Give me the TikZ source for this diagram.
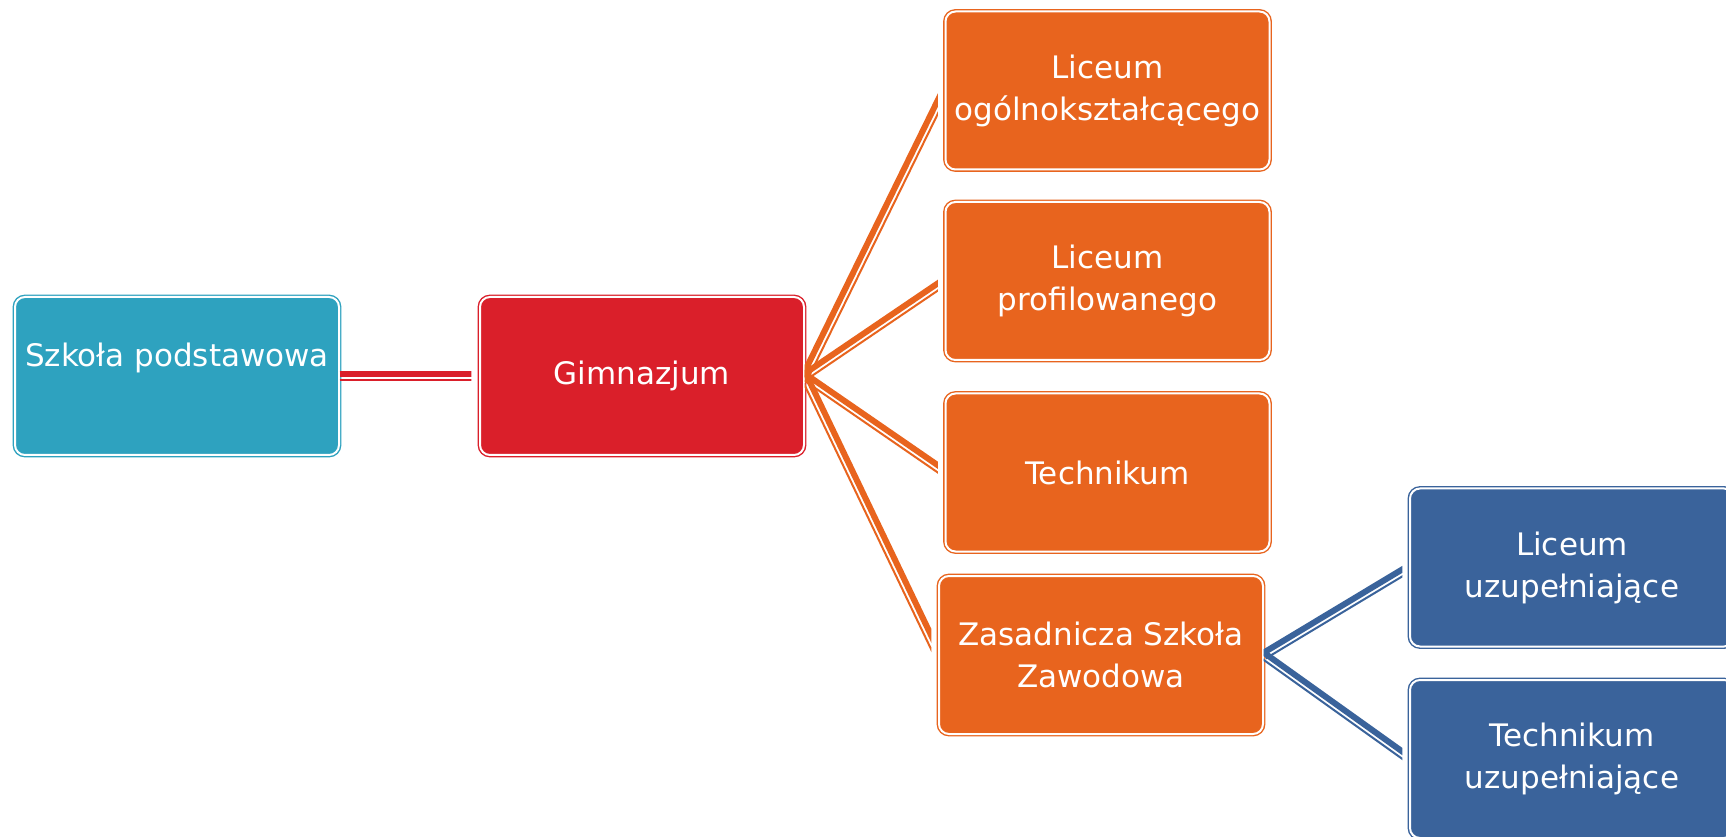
\documentclass[tikz,border=0pt]{standalone}
\usepackage{fontspec}
\setmainfont{DejaVu Sans}
\usetikzlibrary{calc}

\definecolor{cteal}{RGB}{46,162,191}
\definecolor{cred}{RGB}{218,31,42}
\definecolor{corange}{RGB}{232,100,30}
\definecolor{cblue}{RGB}{58,99,155}

\begin{document}
\begin{tikzpicture}[x=1pt, y=1pt,
		box/.style={rectangle, rounded corners=10pt, line width=1.4pt, double=white, double distance=2pt,
			text=white, minimum width=324pt, minimum height=158pt, align=center,
			font=\fontsize{31}{42}\selectfont},
		band/.style={line width=6pt},
		hair/.style={line width=2pt}]
		\useasboundingbox[fill=white] (0,0) rectangle (1726,836);
		\clip (0,0) rectangle (1726,836);
		\node[box, fill=cteal, draw=cteal] (szkola) at (177,460) {Szkoła podstawowa\\\mbox{}};
		\node[box, fill=cred, draw=cred] (gimn) at (642,460) {Gimnazjum};
		\node[box, fill=corange, draw=corange] (liceum) at (1107.5,745.5) {Liceum\\ogólnokształcącego};
		\node[box, fill=corange, draw=corange] (profil) at (1107.5,555) {Liceum\\profilowanego};
		\node[box, fill=corange, draw=corange] (techn) at (1107.5,363.5) {Technikum};
		\node[box, fill=corange, draw=corange] (zasad) at (1101,181) {Zasadnicza Szkoła\\Zawodowa};
		\node[box, fill=cblue, draw=cblue] (licuzup) at (1572,268.5) {Liceum\\uzupełniające};
		\node[box, fill=cblue, draw=cblue] (techuzup) at (1572,77) {Technikum\\uzupełniające};
		% thick-thin links, cut off a little before each box
		\begin{scope}
			\clip (szkola.east |- 0,0) rectangle ([xshift=-8pt]gimn.west |- 0,836);
			\draw[cred, band] ($(szkola.east)!2pt!90:(gimn.west)$) -- ($(gimn.west)!2pt!-90:(szkola.east)$);
			\draw[cred, hair] ($(szkola.east)!4pt!-90:(gimn.west)$) -- ($(gimn.west)!4pt!90:(szkola.east)$);
		\end{scope}
		\foreach \t in {liceum,profil,techn,zasad} {
			\begin{scope}
				\clip (gimn.east |- 0,0) rectangle ([xshift=-7pt]\t.west |- 0,836);
				\draw[corange, band] ($(gimn.east)!2pt!90:(\t.west)$) -- ($(\t.west)!2pt!-90:(gimn.east)$);
				\draw[corange, hair] ($(gimn.east)!4pt!-90:(\t.west)$) -- ($(\t.west)!4pt!90:(gimn.east)$);
			\end{scope}
		}
		\foreach \t in {licuzup,techuzup} {
			\begin{scope}
				\clip (zasad.east |- 0,0) rectangle ([xshift=-7pt]\t.west |- 0,836);
				\draw[cblue, band] ($(zasad.east)!2pt!90:(\t.west)$) -- ($(\t.west)!2pt!-90:(zasad.east)$);
				\draw[cblue, hair] ($(zasad.east)!4pt!-90:(\t.west)$) -- ($(\t.west)!4pt!90:(zasad.east)$);
			\end{scope}
		}
	\end{tikzpicture}
\end{document}
